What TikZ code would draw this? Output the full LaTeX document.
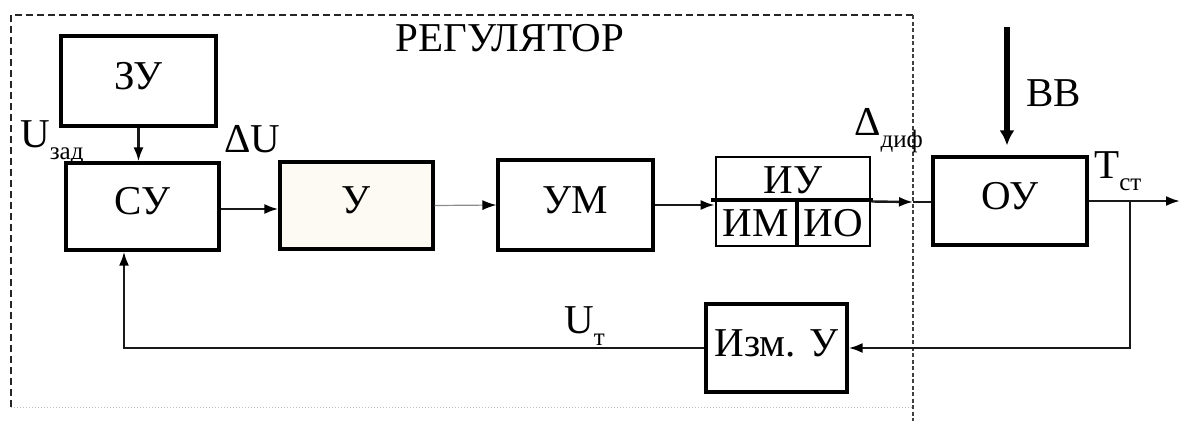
\documentclass[tikz,border=0pt]{standalone}
\usepackage{fontspec}
\setmainfont{Liberation Serif}
\usetikzlibrary{arrows.meta}
\newcommand{\lowidx}[1]{\raisebox{-0.3em}{\fontsize{25}{25}\selectfont #1}}
\begin{document}
\begin{tikzpicture}[x=1pt,y=-1pt,
  font=\fontsize{41}{44}\selectfont,
  blk/.style={draw=black, line width=3.2pt, inner sep=0pt, text=black},
  big/.style={blk, text height=27pt, text depth=11pt},
  tip/.style={-{Latex[length=14pt,width=10pt,black]}},
  conn/.style={line width=2.4pt, draw=black!90, tip},
  plain/.style={line width=2.4pt, draw=black!90},
  lbl/.style={inner sep=0pt, anchor=base west, text=black}]
\useasboundingbox (0,0) rectangle (1181,421);

% regulator frame
\draw[line width=2pt, dash pattern=on 7pt off 4pt, draw=black!85] (11,407) -- (11,15) -- (913,15);
\draw[line width=1.8pt, dash pattern=on 4pt off 2.5pt, draw=black!75] (913,15) -- (913,421);
\draw[line width=1pt, dotted, draw=black!25] (11,407) -- (913,407);
\node[inner sep=0pt, text=black] (reg) at (510,38) {РЕГУЛЯТОР};

% blocks
\node[big, minimum width=155pt, minimum height=90pt] (zu) at (138.5,81) {ЗУ};
\node[big, minimum width=153pt, minimum height=87pt] (su) at (142.5,206.5) {СУ};
\node[big, fill={rgb,255:red,252;green,250;blue,243}, minimum width=153pt, minimum height=87pt] (u) at (356.5,205.5) {У};
\node[big, minimum width=155pt, minimum height=90pt] (um) at (575.5,205) {УМ};
\node[blk, line width=2.6pt, minimum width=154pt, minimum height=89pt] (iu) at (793,201.5) {};
\node[inner sep=0pt, text=black] (iut) at (793,180) {ИУ};
\node[blk, line width=2.4pt, minimum width=80pt, minimum height=46pt] (im) at (756,223) {ИМ};
\node[blk, line width=2.4pt, minimum width=74pt, minimum height=46pt] (io) at (833,223) {ИО};
\draw[line width=4.5pt, draw=black] (711,200) -- (873,200);
\draw[line width=4pt, draw=black] (im.north east) -- (im.south east);
\node[big, minimum width=154pt, minimum height=88pt] (ou) at (1010,201) {ОУ};
\node[big, minimum width=141pt, minimum height=88pt] (izm) at (776.5,348) {Изм. У};

% helper points
\coordinate (bd) at (913,202);
\coordinate (out) at (1180,201);
\coordinate (br) at (1130,201);
\coordinate (fb) at (124,348);
\coordinate (vv) at (1007,27);

% signal path
\draw[conn] (zu.south) -- (zu.south |- su.north);
\draw[conn] ([yshift=-2.5pt]su.east) -- ([yshift=-2.5pt]su.east -| u.west);
\draw[line width=1.2pt, draw=black!45, tip] (u.east) -- (um.west);
\draw[conn] (um.east) -- (um.east -| iu.west);
\draw[conn] (iu.east) -- (bd);
\draw[plain] (bd) -- (bd -| ou.west);
\draw[conn] (ou.east) -- (out);
\draw[line width=5.5pt, draw=black, -{Latex[length=15pt,width=15pt]}, shorten >=10pt] (vv) -- (vv |- ou.north);

% feedback loop
\draw[conn] (br) |- (izm.east);
\draw[conn] (izm.west) -- (fb) -- (fb |- su.south);

% labels
\node[lbl] (uzad) at (20,147) {U\lowidx{зад}};
\node[lbl] (du) at (224,152) {ΔU};
\node[lbl] (ddif) at (854,135) {Δ\lowidx{диф}};
\node[lbl] (bb) at (1026,106) {ВВ};
\node[lbl] (tst) at (1094,178) {Т\lowidx{ст}};
\node[lbl] (ut) at (564,333) {U\lowidx{т}};
\end{tikzpicture}
\end{document}
